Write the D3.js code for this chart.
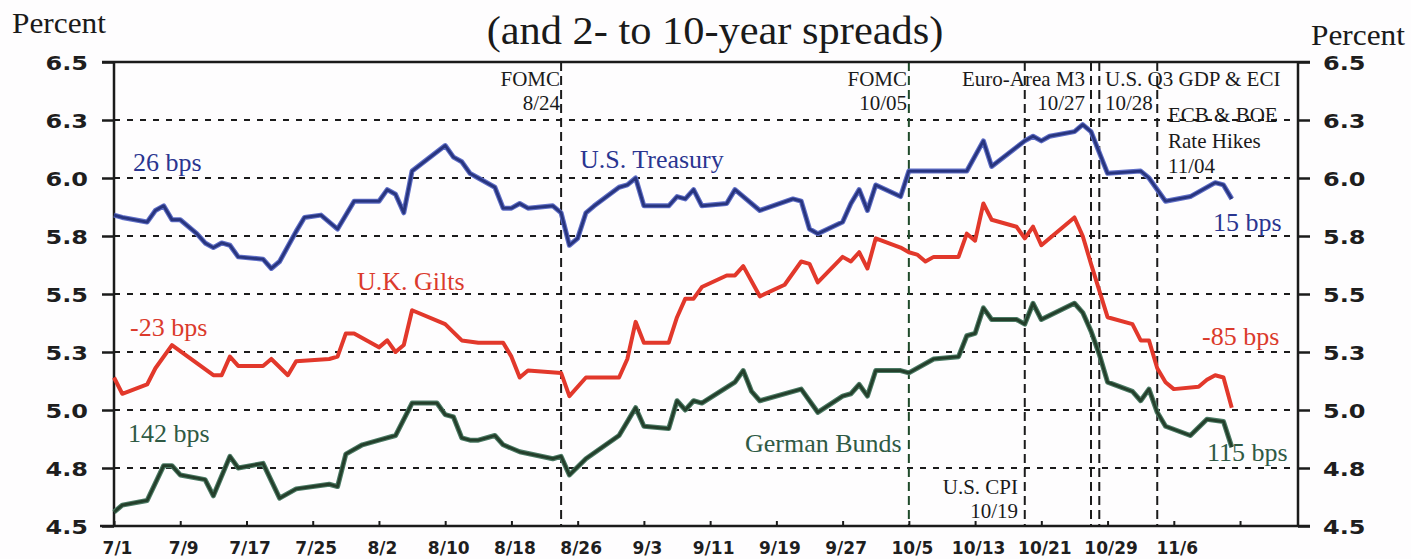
<!DOCTYPE html>
<html>
<head>
<meta charset="utf-8">
<script src="https://cdn.jsdelivr.net/npm/d3@7/dist/d3.min.js"></script>
<style>
  html, body { margin: 0; padding: 0; background: #fefdfe; }
  svg { display: block; }
</style>
</head>
<body>
<svg id="chart" width="1411" height="559"></svg>
<script>
// ---------------- DATA (1999) ----------------
const usDates = ["7/1","7/2","7/5","7/6","7/7","7/8","7/9","7/11","7/12","7/13","7/14","7/15","7/16","7/19","7/20","7/21","7/23","7/24","7/26","7/28","7/30",
  "8/2","8/3","8/4","8/5","8/6","8/10","8/11","8/12","8/13","8/14","8/16","8/17","8/18","8/19","8/20","8/23","8/24","8/25","8/26","8/27","8/28","8/31",
  "9/1","9/2","9/3","9/6","9/7","9/8","9/9","9/10","9/13","9/14","9/17","9/21","9/22","9/23","9/24","9/27","9/28","9/29","9/30",
  "10/1","10/4","10/5","10/7","10/12","10/14","10/15","10/19","10/20","10/21","10/22","10/25","10/26","10/27","10/29",
  "11/2","11/3","11/5","11/8","11/11","11/12","11/13"];
const usValues = [5.84,5.83,5.81,5.86,5.88,5.82,5.82,5.76,5.72,5.70,5.72,5.71,5.66,5.65,5.61,5.64,5.77,5.83,5.84,5.78,5.90,
  5.90,5.95,5.93,5.85,6.03,6.14,6.09,6.07,6.02,6.00,5.96,5.87,5.87,5.89,5.87,5.88,5.85,5.71,5.74,5.85,5.88,5.96,
  5.97,6.00,5.88,5.88,5.92,5.91,5.95,5.88,5.89,5.95,5.86,5.91,5.90,5.78,5.76,5.81,5.89,5.95,5.86,
  5.97,5.92,6.03,6.03,6.03,6.16,6.05,6.16,6.18,6.16,6.18,6.20,6.23,6.20,6.02,
  6.03,6.00,5.90,5.92,5.98,5.97,5.91];

const ukDates = ["7/1","7/2","7/5","7/6","7/8","7/13","7/14","7/15","7/16","7/19","7/20","7/22","7/23","7/27","7/28","7/29","7/30",
  "8/2","8/3","8/4","8/5","8/6","8/10","8/12","8/14","8/17","8/18","8/19","8/20","8/24","8/25","8/27","8/31",
  "9/1","9/2","9/3","9/6","9/7","9/8","9/9","9/10","9/13","9/14","9/15","9/17","9/20","9/22","9/23","9/24","9/27","9/28","9/29","9/30",
  "10/1","10/4","10/5","10/6","10/7","10/8","10/11","10/12","10/13","10/14","10/15","10/18","10/19","10/20","10/21","10/25","10/26","10/27","10/29",
  "11/1","11/2","11/3","11/4","11/5","11/6","11/9","11/10","11/11","11/12","11/13"];
const ukValues = [5.14,5.07,5.11,5.18,5.28,5.15,5.15,5.23,5.19,5.19,5.22,5.15,5.21,5.22,5.23,5.33,5.33,
  5.27,5.30,5.25,5.28,5.43,5.37,5.30,5.29,5.29,5.23,5.14,5.17,5.16,5.06,5.14,5.14,
  5.22,5.38,5.29,5.29,5.40,5.48,5.48,5.53,5.58,5.58,5.62,5.49,5.54,5.64,5.63,5.55,5.66,5.64,5.68,5.61,
  5.74,5.70,5.68,5.67,5.64,5.66,5.66,5.76,5.73,5.89,5.82,5.79,5.74,5.79,5.71,5.83,5.75,5.63,5.40,
  5.37,5.30,5.30,5.18,5.12,5.09,5.10,5.13,5.15,5.14,5.01];

const deDates = ["7/1","7/2","7/5","7/7","7/8","7/9","7/12","7/13","7/15","7/16","7/19","7/21","7/23","7/27","7/28","7/29","7/31",
  "8/2","8/4","8/6","8/9","8/10","8/11","8/12","8/13","8/14","8/16","8/17","8/19","8/23","8/24","8/25","8/27","8/31",
  "9/2","9/3","9/6","9/7","9/8","9/9","9/10","9/14","9/15","9/16","9/17","9/22","9/24","9/27","9/28","9/29","9/30",
  "10/1","10/4","10/5","10/8","10/11","10/12","10/13","10/14","10/15","10/18","10/19","10/20","10/21","10/25","10/26","10/27","10/28","10/29",
  "11/1","11/2","11/3","11/4","11/5","11/8","11/10","11/12","11/13"];
const deValues = [4.56,4.59,4.61,4.76,4.76,4.72,4.70,4.63,4.80,4.75,4.77,4.62,4.66,4.68,4.67,4.81,4.85,
  4.87,4.89,5.03,5.03,4.98,4.97,4.88,4.87,4.87,4.89,4.85,4.82,4.79,4.80,4.72,4.79,4.89,
  5.01,4.93,4.92,5.04,5.00,5.04,5.03,5.12,5.17,5.08,5.04,5.09,4.99,5.06,5.07,5.11,5.06,
  5.17,5.17,5.16,5.22,5.23,5.32,5.33,5.44,5.39,5.39,5.37,5.46,5.39,5.46,5.42,5.34,5.24,5.12,
  5.08,5.04,5.09,4.99,4.93,4.89,4.96,4.95,4.84];

const xDomain = ["7/1","11/21"];
const xTickDates = ["7/1","7/9","7/17","7/25","8/2","8/10","8/18","8/26","9/3","9/11","9/19","9/27","10/5","10/13","10/21","10/29","11/6","11/14"];
const xTickLabels = ["7/1","7/9","7/17","7/25","8/2","8/10","8/18","8/26","9/3","9/11","9/19","9/27","10/5","10/13","10/21","10/29","11/6",""];
const yDomain = [4.5, 6.5];
const yTickValues = [4.5,4.75,5.0,5.25,5.5,5.75,6.0,6.25,6.5];
const yTickLabels = ["4.5","4.8","5.0","5.3","5.5","5.8","6.0","6.3","6.5"];
const eventDates = ["8/24","10/5","10/19","10/27","10/28","11/4"];

// ---------------- SETUP ----------------
const parse = d3.timeParse("%m/%d/%Y");
const toDate = s => parse(s + "/1999");
const svg = d3.select("#chart");
const L = 114, R = 1298, T = 62, B = 526;
const x = d3.scaleTime().domain(xDomain.map(toDate)).range([L, R]);
const y = d3.scaleLinear().domain(yDomain).range([B, T]);

const INK = "#1b1b1b";
const BLUE = "#28357f", BLUE_EDGE = "#5f6ec6";
const RED = "#e2382b";
const GREEN = "#243f2b", GREEN_EDGE = "#4b7a64";
const SERIF = "'Liberation Serif', 'Times New Roman', serif";
const SANS = "'DejaVu Sans', sans-serif";

svg.append("rect").attr("width", 1411).attr("height", 559).attr("fill", "#fefdfe");

// gridlines
svg.append("g").selectAll("line")
  .data(yTickValues.filter(v => v > yDomain[0] && v < yDomain[1]))
  .join("line")
  .attr("x1", L).attr("x2", R)
  .attr("y1", d => y(d)).attr("y2", d => y(d))
  .attr("stroke", INK).attr("stroke-width", 2).attr("stroke-dasharray", "6,7");

// event lines
svg.append("g").selectAll("line")
  .data(eventDates)
  .join("line")
  .attr("x1", d => x(toDate(d))).attr("x2", d => x(toDate(d)))
  .attr("y1", T).attr("y2", B)
  .attr("stroke", (d, i) => i === 1 ? "#1f4a2a" : INK)
  .attr("stroke-width", 2).attr("stroke-dasharray", "9,5");

// axes
function stretchText(sel, sx) {
  sel.each(function () {
    const t = d3.select(this);
    const tx = +t.attr("x") || 0;
    t.attr("x", 0).attr("transform", `translate(${tx},0) scale(${sx},1)`);
  });
}
const yl = svg.append("g").attr("transform", `translate(${L},0)`)
  .call(d3.axisLeft(y).tickValues(yTickValues).tickFormat((d, i) => yTickLabels[i]).tickSize(12).tickPadding(14));
const yr = svg.append("g").attr("transform", `translate(${R},0)`)
  .call(d3.axisRight(y).tickValues(yTickValues).tickFormat((d, i) => yTickLabels[i]).tickSize(12).tickPadding(13));
[yl, yr].forEach(g => {
  g.select(".domain").remove();
  g.selectAll(".tick line").attr("stroke", INK).attr("stroke-width", 2.5);
  g.selectAll(".tick text").attr("font-family", SANS).attr("font-weight", "bold")
    .attr("font-size", 20).attr("fill", "#1e1e1e").attr("dy", "0.36em").call(stretchText, 1.2);
});
const xa = svg.append("g").attr("transform", `translate(0,${B})`)
  .call(d3.axisBottom(x).tickValues(xTickDates.map(toDate)).tickFormat((d, i) => xTickLabels[i]).tickSizeInner(-5).tickSizeOuter(0));
xa.select(".domain").remove();
xa.selectAll(".tick line").attr("stroke", INK).attr("stroke-width", 2);
xa.selectAll(".tick text").attr("font-family", SANS).attr("font-weight", "bold")
  .attr("font-size", 17).attr("fill", "#1e1e1e").attr("y", 28).attr("dy", 0).attr("x", 3);

// frame
const frame = svg.append("g").attr("stroke", INK).attr("stroke-width", 2.5);
frame.append("line").attr("x1", L - 12).attr("x2", R + 12).attr("y1", y(6.5)).attr("y2", y(6.5));
frame.append("line").attr("x1", L - 14).attr("x2", R + 12).attr("y1", y(4.5)).attr("y2", y(4.5));
frame.append("line").attr("x1", L).attr("x2", L).attr("y1", y(6.5)).attr("y2", y(4.5));
frame.append("line").attr("x1", R).attr("x2", R).attr("y1", y(6.5)).attr("y2", y(4.5));

// series
const line = d3.line().x(d => x(d.date)).y(d => y(d.v));
function series(dates, values) { return dates.map((d, i) => ({ date: toDate(d), v: values[i] })); }
const us = series(usDates, usValues), uk = series(ukDates, ukValues), de = series(deDates, deValues);
function drawLine(data, color, edge) {
  if (edge) svg.append("path").datum(data).attr("d", line).attr("fill", "none")
    .attr("stroke", edge).attr("stroke-width", 5).attr("stroke-linejoin", "round");
  svg.append("path").datum(data).attr("d", line).attr("fill", "none")
    .attr("stroke", color).attr("stroke-width", edge ? 2.8 : 4).attr("stroke-linejoin", "round");
}
drawLine(us, BLUE, BLUE_EDGE);
drawLine(uk, RED, null);
drawLine(de, GREEN, GREEN_EDGE);

// text helper
function txt(tx, ty, s, o) {
  o = o || {};
  svg.append("text")
    .attr("transform", `translate(${tx},${ty}) scale(${o.sx || 1},1)`)
    .attr("text-anchor", o.anchor || "start")
    .attr("font-family", o.family || SERIF)
    .attr("font-size", o.size || 21)
    .attr("fill", o.fill || "#1a1a1a")
    .text(s);
}

// titles
txt(715, 44, "(and 2- to 10-year spreads)", { size: 40, anchor: "middle", sx: 1.06 });
txt(12, 33, "Percent", { size: 29, sx: 1.08 });
txt(1311, 45, "Percent", { size: 29, sx: 1.08 });

// event annotations
txt(560, 86, "FOMC", { anchor: "end" });
txt(560, 110, "8/24", { anchor: "end" });
txt(907, 86, "FOMC", { anchor: "end" });
txt(907, 110, "10/05", { anchor: "end" });
txt(962, 86, "Euro-Area M3");
txt(1085, 110, "10/27", { anchor: "end" });
txt(1105, 86, "U.S. Q3 GDP & ECI");
txt(1105, 110, "10/28");
txt(1168, 122, "ECB & BOE");
txt(1168, 148, "Rate Hikes");
txt(1168, 173, "11/04");
txt(1018, 494, "U.S. CPI", { anchor: "end" });
txt(1018, 518, "10/19", { anchor: "end" });

// series labels
const LB = "#2a3590", LR = "#db3a2c", LG = "#2f5a44";
txt(133, 171, "26 bps", { size: 26, fill: LB });
txt(580, 168, "U.S. Treasury", { size: 26, fill: LB });
txt(357, 290, "U.K. Gilts", { size: 26, fill: LR });
txt(130, 336, "-23 bps", { size: 26, fill: LR });
txt(128, 442, "142 bps", { size: 26, fill: LG });
txt(745, 452, "German Bunds", { size: 26, fill: LG });
txt(1213, 231, "15 bps", { size: 26, fill: LB });
txt(1202, 345, "-85 bps", { size: 26, fill: LR });
txt(1207, 461, "115 bps", { size: 26, fill: LG });
</script>
</body>
</html>
